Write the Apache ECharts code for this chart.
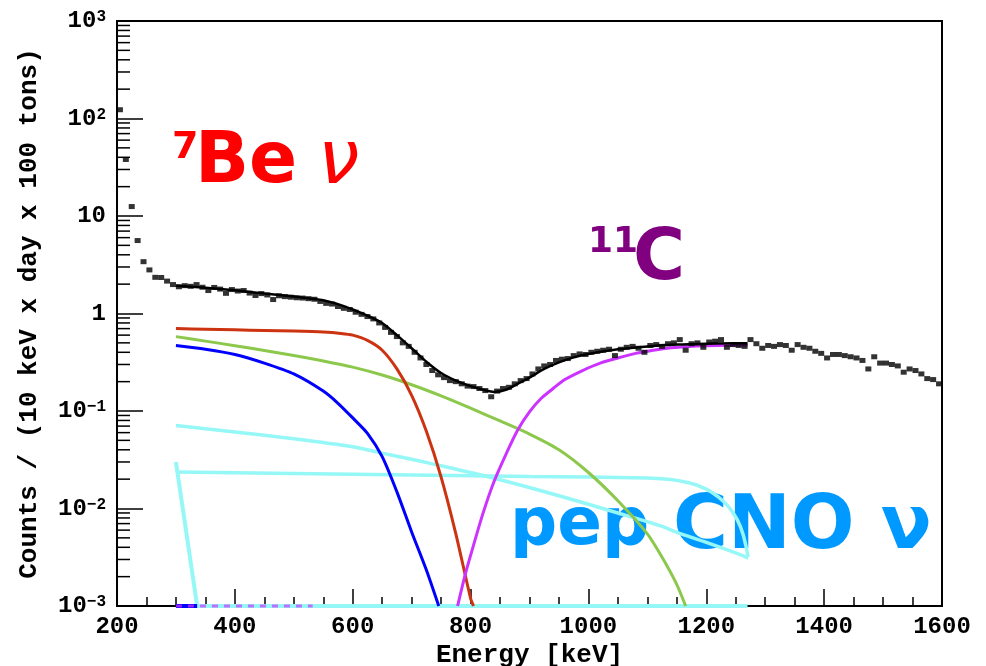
<!DOCTYPE html>
<html><head><meta charset="utf-8">
<script src="https://cdn.jsdelivr.net/npm/echarts@6/dist/echarts.min.js"></script>
<style>html,body{margin:0;padding:0;background:#fff}#c{width:986px;height:666px}</style>
</head><body><div id="c"></div>
<script>
// ---- data ----
const energy = [205,215,225,235,245,255,265,275,285,295,
305,315,325,335,345,355,365,375,385,395,
405,415,425,435,445,455,465,475,485,495,
505,515,525,535,545,555,565,575,585,595,
605,615,625,635,645,655,665,675,685,695,
705,715,725,735,745,755,765,775,785,795,
805,815,825,835,845,855,865,875,885,895,
905,915,925,935,945,955,965,975,985,995,
1005,1015,1025,1035,1045,1055,1065,1075,1085,1095,
1105,1115,1125,1135,1145,1155,1165,1175,1185,1195,
1205,1215,1225,1235,1245,1255,1265,1275,1285,1295,
1305,1315,1325,1335,1345,1355,1365,1375,1385,1395,
1405,1415,1425,1435,1445,1455,1465,1475,1485,1495,
1505,1515,1525,1535,1545,1555,1565,1575,1585,1595];
const counts = [123,38,12.5,5.6,3.4,2.8,2.35,2.34,2.15,1.98,
1.88,1.93,1.90,1.98,1.86,1.72,1.85,1.78,1.61,1.76,
1.70,1.72,1.62,1.53,1.60,1.55,1.39,1.52,1.49,1.47,
1.45,1.44,1.42,1.40,1.33,1.27,1.25,1.18,1.13,1.10,
1.03,0.98,0.93,0.88,0.80,0.72,0.64,0.58,0.50,0.46,
0.40,0.35,0.30,0.26,0.235,0.22,0.205,0.20,0.19,0.18,
0.178,0.17,0.162,0.14,0.16,0.17,0.175,0.19,0.205,0.215,
0.24,0.27,0.29,0.30,0.33,0.34,0.345,0.37,0.385,0.38,
0.40,0.41,0.42,0.43,0.37,0.43,0.45,0.46,0.44,0.40,
0.47,0.48,0.46,0.49,0.50,0.54,0.42,0.49,0.50,0.45,
0.51,0.52,0.54,0.45,0.48,0.47,0.46,0.54,0.49,0.44,
0.47,0.46,0.48,0.47,0.42,0.48,0.45,0.44,0.41,0.39,
0.35,0.38,0.38,0.37,0.36,0.35,0.33,0.27,0.36,0.31,
0.31,0.30,0.29,0.25,0.27,0.26,0.24,0.215,0.21,0.19];

const totalFit = [[300,1.93],[350,1.84],[400,1.73],[450,1.60],[500,1.49],[550,1.37],[580,1.22],[600,1.10],[625,0.95],[650,0.80],[675,0.60],[700,0.44],[725,0.32],[750,0.245],[775,0.205],[800,0.18],[825,0.163],[840,0.157],[860,0.165],[880,0.19],[900,0.22],[925,0.27],[950,0.315],[975,0.355],[1000,0.385],[1050,0.43],[1100,0.46],[1150,0.48],[1200,0.49],[1250,0.495],[1270,0.495]];
const be7 = [[300,0.70],[350,0.69],[400,0.68],[450,0.67],[500,0.66],[550,0.645],[580,0.625],[600,0.60],[625,0.53],[650,0.42],[675,0.27],[700,0.145],[725,0.062],[750,0.021],[775,0.0055],[800,0.0012],[805,0.001]];
const green = [[300,0.579],[350,0.521],[400,0.468],[450,0.417],[500,0.370],[550,0.326],[600,0.282],[650,0.234],[700,0.186],[750,0.143],[800,0.107],[850,0.079],[900,0.058],[950,0.040],[1000,0.0234],[1050,0.012],[1100,0.0055],[1125,0.00316],[1150,0.00166],[1165,0.001]];
const blue = [[300,0.47],[350,0.43],[400,0.38],[450,0.31],[500,0.24],[550,0.16],[575,0.12],[600,0.085],[625,0.059],[650,0.034],[675,0.0148],[700,0.00575],[725,0.00234],[746,0.001]];
const c11 = [[778,0.001],[790,0.002],[800,0.0033],[820,0.0085],[840,0.019],[860,0.036],[880,0.064],[900,0.098],[920,0.135],[940,0.17],[960,0.21],[990,0.26],[1020,0.31],[1050,0.35],[1080,0.39],[1110,0.42],[1140,0.445],[1170,0.46],[1200,0.468],[1235,0.472],[1270,0.474]];
const cno = [[300,0.071],[400,0.061],[500,0.052],[600,0.043],[650,0.037],[700,0.032],[767,0.026],[850,0.0197],[950,0.0135],[1050,0.009],[1124,0.0066],[1150,0.0057],[1200,0.0045],[1250,0.0035],[1271,0.0031]];
const pep = [[300,0.0237],[400,0.0233],[500,0.0229],[600,0.0225],[700,0.0221],[800,0.0217],[900,0.0213],[1000,0.021],[1050,0.0208],[1100,0.0205],[1124,0.0202],[1140,0.0198],[1155,0.0192],[1170,0.0184],[1185,0.0173],[1200,0.0158],[1210,0.0146],[1220,0.0132],[1230,0.0117],[1238,0.0104],[1245,0.0091],[1252,0.0078],[1258,0.0065],[1263,0.0053],[1267,0.0042],[1271,0.0032]];
const steepCyan = [[300,0.030],[336,0.001],[1270,0.001]];
const floorMagenta = [[300,0.001],[532,0.001]];
const floorBlue = [[300,0.001],[336,0.001]];

const xMin = 200, xMax = 1600, xStep = 200;
const yMin = 0.001, yMax = 1000;
const yTickValues = [0.001,0.01,0.1,1,10,100,1000];
const yTickLabels = ['10{s|\u22123}','10{s|\u22122}','10{s|\u22121}','1','10','10{s|2}','10{s|3}'];
const yMinorVals = [];
[0.001,0.01,0.1,1,10,100].forEach(d=>{[2,3,4,5,6,7,8,9].forEach(m=>yMinorVals.push(+(d*m).toPrecision(3)));});

const mono = '"Liberation Mono", "DejaVu Sans Mono", monospace';
const sans = '"DejaVu Sans", sans-serif';

const chart = echarts.init(document.getElementById('c'), null, {renderer:'canvas'});
function lineS(data, color, w, extra){
  return Object.assign({type:'line', data, showSymbol:false, symbol:'none', smooth:0.25, clip:false,
    lineStyle:{color, width:w}, silent:true, z:3}, extra||{});
}
chart.setOption({
  animation:false,
  backgroundColor:'#fff',
  grid:{left:117, right:44, top:21, bottom:60, outerBoundsMode:'none', containLabel:false,
    show:true, borderColor:'#000', borderWidth:2, backgroundColor:'transparent'},
  xAxis:{type:'value', min:xMin, max:xMax, interval:xStep,
    name:'Energy [keV]', nameLocation:'middle', nameGap:36, nameMoveOverlap:false,
    nameTextStyle:{fontFamily:mono, fontWeight:'bold', fontSize:26, color:'#000'},
    axisLine:{show:true, lineStyle:{color:'#000', width:2}},
    axisTick:{show:true, inside:true, length:17, lineStyle:{color:'#000', width:1.5}},
    minorTick:{show:true, splitNumber:4, length:9, lineStyle:{color:'#000', width:1.5}},
    splitLine:{show:false},
    axisLabel:{fontFamily:mono, fontWeight:'bold', fontSize:24, color:'#000', margin:9,
      formatter:function(v){ return String(v); }}
  },
  yAxis:{type:'log', logBase:10, min:yMin, max:yMax,
    name:'Counts / (10 keV x day x 100 tons)', nameLocation:'middle', nameGap:75, nameRotate:90, nameMoveOverlap:false,
    nameTextStyle:{fontFamily:mono, fontWeight:'bold', fontSize:26, color:'#000'},
    axisLine:{show:true, lineStyle:{color:'#000', width:2}},
    axisTick:{show:true, inside:true, length:26, lineStyle:{color:'#000', width:1.5}},
    splitLine:{show:false},
    axisLabel:{fontFamily:mono, fontWeight:'bold', fontSize:24, color:'#000', margin:11,
      formatter:function(v){
        for (let i=0;i<yTickValues.length;i++){ if (Math.abs(Math.log10(v)-Math.log10(yTickValues[i]))<1e-6) return yTickLabels[i]; }
        return '';
      },
      rich:{s:{fontFamily:mono, fontWeight:'bold', fontSize:16, color:'#000', verticalAlign:'top', lineHeight:14}}
    }
  },
  series:[
    {type:'custom', silent:true, z:1, clip:false,
     data: yMinorVals.map(v=>[xMin, v]),
     renderItem:function(p, api){
       const c = api.coord([api.value(0), api.value(1)]);
       return {type:'line', shape:{x1:c[0], y1:c[1], x2:c[0]+13, y2:c[1]}, style:{stroke:'#000', lineWidth:1.5}};
     }},
    lineS(steepCyan, '#96f7f7', 4, {smooth:false}),
    lineS(floorBlue, '#0000ff', 4, {smooth:false}),
    lineS(floorMagenta, '#cc33ff', 3, {smooth:false, lineStyle:{color:'#cc33ff', width:3, type:[6,6], opacity:0.7}}),
    lineS(cno, '#96f7f7', 3.5),
    lineS(pep, '#96f7f7', 3.5, {smooth:false}),
    lineS(green, '#8cc84b', 3),
    lineS(blue, '#0000ff', 3),
    lineS(be7, '#cc3311', 3),
    lineS(c11, '#cc33ff', 3),
    lineS(totalFit, '#000000', 2.5, {z:4}),
    {type:'scatter', data: energy.map((e,i)=>[e, counts[i]]), symbol:'rect', symbolSize:[6,5],
     itemStyle:{color:'#000'}, silent:true, z:5, clip:false}
  ],
  graphic:[
    {type:'text', x:172, y:148, style:{text:'7', font:'bold 38px '+sans, fill:'#ff0000', align:'left', verticalAlign:'middle'}},
    {type:'text', x:195, y:164, style:{text:'Be', font:'bold 71px '+sans, fill:'#ff0000', align:'left', verticalAlign:'middle'}},
    {type:'text', x:318, y:164, style:{text:'\u03BD', font:'italic 74px '+sans, fill:'#ff0000', align:'left', verticalAlign:'middle'}},
    {type:'text', x:588, y:243, style:{text:'11', font:'bold 36px '+sans, fill:'#800080', align:'left', verticalAlign:'middle'}},
    {type:'text', x:633, y:261, style:{text:'C', font:'bold 71px '+sans, fill:'#800080', align:'left', verticalAlign:'middle'}},
    {type:'text', x:510, y:527, style:{text:'pep', font:'bold 66px '+sans, fill:'#0099ff', align:'left', verticalAlign:'middle'}},
    {type:'text', x:673, y:529, style:{text:'CNO \u03BD', font:'bold 75px '+sans, fill:'#0099ff', align:'left', verticalAlign:'middle'}}
  ]
});
</script></body></html>
